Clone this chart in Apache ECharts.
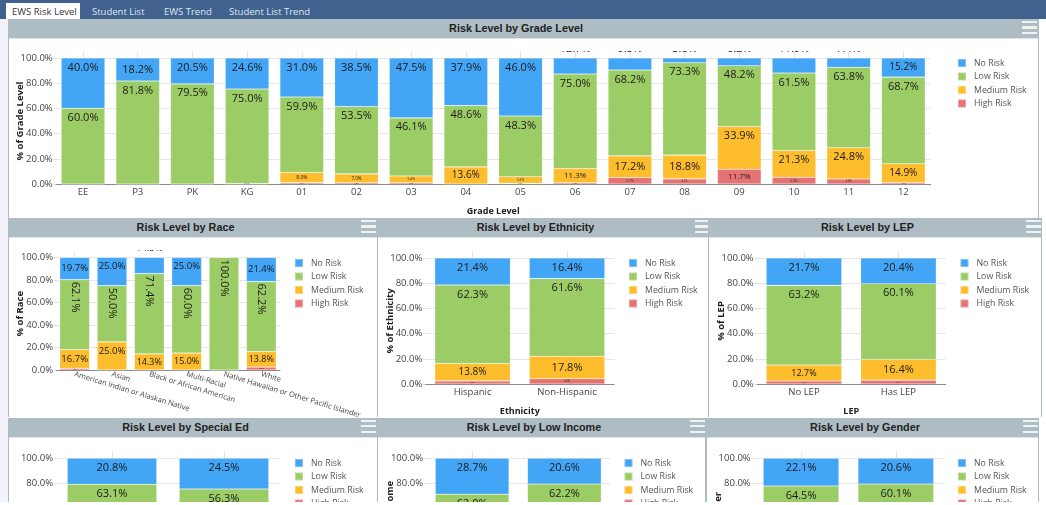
<!DOCTYPE html>
<html>
<head>
<meta charset="utf-8">
<title>EWS Risk Level</title>
<script src="https://cdn.jsdelivr.net/npm/echarts@6/dist/echarts.min.js"></script>
<style>
	html, body { margin: 0; padding: 0; background: #fff; overflow: hidden; }
	#page { position: absolute; left: 0; top: 0; width: 1046px; height: 502px; overflow: hidden; background: #fff; }
	#strip { position: absolute; left: 0; top: 19px; width: 8px; height: 483px; background: #f2f2fb; }
	#tabs { position: absolute; left: 0; top: 0; width: 1046px; height: 19px; background: #41628f; }
	.tab { position: absolute; top: 3px; height: 16px; line-height: 17px; font: 9.5px/17px "Open Sans", sans-serif; color: #dfe6ee; white-space: nowrap; }
	.tab.active { left: 6px; width: 68px; padding-left: 6px; background: #fff; color: #333; }
	.panel { position: absolute; background: #fff; box-sizing: border-box; border: solid #aebdc3; border-width: 0 1px 0 1px; }
	.head { position: absolute; left: 0; right: 0; top: 0; height: 20px; padding-right: 15px; background: #aebdc3; border-bottom: 1px solid #dfe6e9; box-sizing: border-box; text-align: center; font: bold 10.8px/18px "Liberation Sans", Arial, sans-serif; color: #222; }
	.menu { position: absolute; top: 2px; width: 14.5px; height: 13px; border-top: 2.5px solid #eef2f3; border-bottom: 2.5px solid #eef2f3; box-sizing: border-box; }
	.menu:after { content: ""; position: absolute; left: 0; right: 0; top: 3px; height: 2.5px; background: #eef2f3; }
	.chart { position: absolute; }
</style>
</head>
<body>
<div id="page">
	<div id="strip"></div>
	<div id="tabs">
		<div class="tab active">EWS Risk Level</div>
		<div class="tab" style="left:92px">Student List</div>
		<div class="tab" style="left:164px">EWS Trend</div>
		<div class="tab" style="left:229px">Student List Trend</div>
	</div>
</div>
<script>
"use strict";

/*****Data start*****/
var seriesNames = ['No Risk', 'Low Risk', 'Medium Risk', 'High Risk'];

var gradeCategories = ['EE', 'P3', 'PK', 'KG', '01', '02', '03', '04', '05', '06', '07', '08', '09', '10', '11', '12'];
var gradeNoRisk = [40.0, 18.2, 20.5, 24.6, 31.0, 38.5, 47.5, 37.9, 46.0, 12.7, 9.5, 3.8, 6.2, 11.9, 7.4, 15.2];
var gradeLowRisk = [60.0, 81.8, 79.5, 75.0, 59.9, 53.5, 46.1, 48.6, 48.3, 75.0, 68.2, 73.3, 48.2, 61.5, 63.8, 68.7];
var gradeMediumRisk = [0, 0, 0, 0.4, 8.0, 7.0, 5.4, 13.6, 5.2, 11.3, 17.2, 18.8, 33.9, 21.3, 24.8, 14.9];
var gradeHighRisk = [0, 0, 0, 0, 1.1, 1.0, 1.0, 0, 0.5, 1.0, 5.1, 4.1, 11.7, 5.3, 4.0, 1.2];

var raceCategories = ['American Indian or Alaskan Native', 'Asian', 'Black or African American', 'Multi-Racial', 'Native Hawaiian or Other Pacific Islander', 'White'];
var raceNoRisk = [19.7, 25.0, 14.3, 25.0, 0, 21.4];
var raceLowRisk = [62.1, 50.0, 71.4, 60.0, 100.0, 62.2];
var raceMediumRisk = [16.7, 25.0, 14.3, 15.0, 0, 13.8];
var raceHighRisk = [1.5, 0, 0, 0, 0, 2.6];

var ethnicityCategories = ['Hispanic', 'Non-Hispanic'];
var ethnicityNoRisk = [21.4, 16.4];
var ethnicityLowRisk = [62.3, 61.6];
var ethnicityMediumRisk = [13.8, 17.8];
var ethnicityHighRisk = [2.5, 4.2];

var lepCategories = ['No LEP', 'Has LEP'];
var lepNoRisk = [21.7, 20.4];
var lepLowRisk = [63.2, 60.1];
var lepMediumRisk = [12.7, 16.4];
var lepHighRisk = [2.4, 3.1];

var spedCategories = ['No IEP', 'Has IEP'];
var spedNoRisk = [20.8, 24.5];
var spedLowRisk = [63.1, 56.3];
var spedMediumRisk = [13.1, 15.5];
var spedHighRisk = [3.0, 3.7];

var incomeCategories = ['Not Low Income', 'Low Income'];
var incomeNoRisk = [28.7, 20.6];
var incomeLowRisk = [62.0, 62.2];
var incomeMediumRisk = [7.3, 14.2];
var incomeHighRisk = [2.0, 3.0];

var genderCategories = ['Female', 'Male'];
var genderNoRisk = [22.1, 20.6];
var genderLowRisk = [64.5, 60.1];
var genderMediumRisk = [11.0, 16.3];
var genderHighRisk = [2.4, 3.0];

var tickLabels = ['0.0%', '20.0%', '40.0%', '60.0%', '80.0%', '100.0%'];
/*****Data end*****/

var colors = ['#42a5f5', '#9ccc65', '#fdbd2c', '#e57373'];
var labelFamily = '"Open Sans", sans-serif';

/* Font shrinks with the segment, the way the small labels do in the picture */
var segmentFont = function(h, maxFont) {
	var size;
	if (h >= 20) size = 11;
	else if (h >= 17) size = 10;
	else if (h >= 15) size = 9;
	else if (h >= 13) size = 8;
	else size = Math.max(2, h * 0.5);
	return Math.min(size, maxFont || 11);
};

var buildData = function(values, index, cfg) {
	return values.map(function(v) {
		var h = v * cfg.gridH / 100;
		var label = { fontSize: segmentFont(h, cfg.maxFont), position: h >= 25 ? 'insideTop' : 'inside', distance: 4 };
		if (v === 0) {
			label.show = false;
		} else if (index === 0 && v < 14.5) {
			// these labels sit above the bar and get cut off by the chart top
			label.position = 'top';
			label.distance = 4;
			label.fontSize = cfg.maxFont || 11;
		} else if (index === 1 && cfg.rotateLow) {
			label = { fontSize: 11, position: 'insideTop', distance: 2, rotate: -90, align: 'left', verticalAlign: 'middle' };
		}
		return { value: v, label: label };
	});
};

var buildOption = function(cfg) {
	var stackOrder = [3, 2, 1, 0];
	var series = stackOrder.map(function(i) {
		return {
			name: seriesNames[i],
			type: 'bar',
			stack: 'risk',
			barWidth: '80%',
			itemStyle: { color: colors[i], borderColor: 'rgba(255,255,255,0.3)', borderWidth: 0.6 },
			label: { show: true, color: '#1a1a1a', fontFamily: labelFamily, formatter: function(p) { return p.value.toFixed(1) + '%'; } },
			data: buildData(cfg.values[i], i, cfg)
		};
	});
	return {
		animation: false,
		color: colors,
		legend: {
			orient: 'vertical',
			left: cfg.legendX - cfg.left,
			top: cfg.legendY - cfg.top,
			padding: 0,
			itemWidth: 8,
			itemHeight: 8,
			itemGap: 3.5,
			selectedMode: false,
			icon: 'rect',
			data: seriesNames,
			textStyle: { color: '#555', fontFamily: labelFamily, fontSize: 8.8, padding: [0, 0, 0, 3] }
		},
		grid: {
			outerBoundsMode: 'none',
			left: cfg.gridX - cfg.left,
			top: cfg.gridY - cfg.top,
			width: cfg.gridW,
			height: cfg.gridH
		},
		xAxis: [{
			type: 'category',
			data: cfg.categories,
			name: cfg.xName,
			nameLocation: 'middle',
			nameGap: 23,
			nameMoveOverlap: false,
			nameTextStyle: { color: '#222', fontFamily: labelFamily, fontWeight: 'bold', fontSize: 9 },
			axisTick: { show: false },
			axisLine: { lineStyle: { color: '#8a8a8a' } },
			axisLabel: {
				interval: 0,
				hideOverlap: false,
				margin: cfg.xRotate ? 4 : 3,
				rotate: cfg.xRotate || 0,
				color: '#444',
				fontFamily: labelFamily,
				fontSize: cfg.xRotate ? 7.5 : 9.5
			}
		}, {
			type: 'category',
			position: 'top',
			data: cfg.categories,
			axisLine: { show: false },
			axisLabel: { show: false },
			axisTick: { show: true, alignWithLabel: true, length: 6, lineStyle: { color: '#e2e2e2' } }
		}],
		yAxis: {
			type: 'value',
			min: 0,
			max: 100,
			interval: 20,
			name: cfg.yName,
			nameLocation: 'middle',
			nameGap: 30.5,
			nameMoveOverlap: false,
			nameTextStyle: { color: '#222', fontFamily: labelFamily, fontWeight: 'bold', fontSize: 9.5 },
			axisLine: { show: false },
			axisTick: { show: true, length: 2, lineStyle: { color: '#d8d8d8' } },
			splitLine: { lineStyle: { color: '#e6e6e6' } },
			axisLabel: {
				margin: 3,
				color: '#444',
				fontFamily: labelFamily,
				fontSize: 9.5,
				formatter: function(v) { return tickLabels[v / 20]; }
			}
		},
		series: series
	};
};

/*****Panels start*****/
var panels = [
	{ title: 'Risk Level by Grade Level', x: 8, y: 19, w: 1031, h: 199, menuX: 1013 },
	{ title: 'Risk Level by Race', x: 8, y: 218, w: 370, h: 199, menuX: 352 },
	{ title: 'Risk Level by Ethnicity', x: 377, y: 218, w: 332, h: 199, menuX: 317 },
	{ title: 'Risk Level by LEP', x: 708, y: 218, w: 334, h: 199, menuX: 317 },
	{ title: 'Risk Level by Special Ed', x: 8, y: 417.5, w: 370, h: 100, menuX: 352 },
	{ title: 'Risk Level by Low Income', x: 377, y: 417.5, w: 329, h: 100, menuX: 312 },
	{ title: 'Risk Level by Gender', x: 706, y: 417.5, w: 333, h: 100, menuX: 316 }
];

var page = document.getElementById('page');
panels.forEach(function(p) {
	var el = document.createElement('div');
	el.className = 'panel';
	el.style.cssText = 'left:' + p.x + 'px;top:' + p.y + 'px;width:' + p.w + 'px;height:' + p.h + 'px';
	el.innerHTML = '<div class="head">' + p.title + '<div class="menu" style="left:' + p.menuX + 'px"></div></div>';
	page.appendChild(el);
});
/*****Panels end*****/

/*****Charts start*****/
var charts = [
	{ left: 9, top: 51, width: 1029, height: 166, gridX: 55.7, gridY: 58, gridW: 875, gridH: 126, legendX: 957, legendY: 58,
		categories: gradeCategories, values: [gradeNoRisk, gradeLowRisk, gradeMediumRisk, gradeHighRisk], xName: 'Grade Level', yName: '% of Grade Level' },
	{ left: 9, top: 250, width: 367, height: 167, gridX: 56, gridY: 257.5, gridW: 224, gridH: 112.5, legendX: 294, legendY: 258, xRotate: -17, rotateLow: true, maxFont: 9.5,
		categories: raceCategories, values: [raceNoRisk, raceLowRisk, raceMediumRisk, raceHighRisk], yName: '% of Race' },
	{ left: 378, top: 239, width: 330, height: 178, gridX: 425.3, gridY: 258, gridW: 189, gridH: 126, legendX: 628, legendY: 258,
		categories: ethnicityCategories, values: [ethnicityNoRisk, ethnicityLowRisk, ethnicityMediumRisk, ethnicityHighRisk], xName: 'Ethnicity', yName: '% of Ethnicity' },
	{ left: 709, top: 239, width: 332, height: 178, gridX: 756.7, gridY: 258, gridW: 189, gridH: 126, legendX: 959.5, legendY: 258,
		categories: lepCategories, values: [lepNoRisk, lepLowRisk, lepMediumRisk, lepHighRisk], xName: 'LEP', yName: '% of LEP' },
	{ left: 9, top: 438, width: 367, height: 179, gridX: 56, gridY: 458.3, gridW: 224, gridH: 125, legendX: 294, legendY: 458,
		categories: spedCategories, values: [spedNoRisk, spedLowRisk, spedMediumRisk, spedHighRisk], xName: 'IEP', yName: '% of IEP' },
	{ left: 378, top: 438, width: 327, height: 179, gridX: 426, gridY: 458.3, gridW: 184.5, gridH: 125, legendX: 623.5, legendY: 458,
		categories: incomeCategories, values: [incomeNoRisk, incomeLowRisk, incomeMediumRisk, incomeHighRisk], xName: 'Low Income', yName: '% of Low Income' },
	{ left: 707, top: 438, width: 331, height: 179, gridX: 753.7, gridY: 458.3, gridW: 189.5, gridH: 125, legendX: 957, legendY: 458,
		categories: genderCategories, values: [genderNoRisk, genderLowRisk, genderMediumRisk, genderHighRisk], xName: 'Gender', yName: '% of Gender' }
];

charts.forEach(function(cfg) {
	var el = document.createElement('div');
	el.className = 'chart';
	el.style.cssText = 'left:' + cfg.left + 'px;top:' + cfg.top + 'px;width:' + cfg.width + 'px;height:' + cfg.height + 'px';
	page.appendChild(el);
	var chart = echarts.init(el);
	chart.setOption(buildOption(cfg));
});
/*****Charts end*****/
</script>
</body>
</html>
